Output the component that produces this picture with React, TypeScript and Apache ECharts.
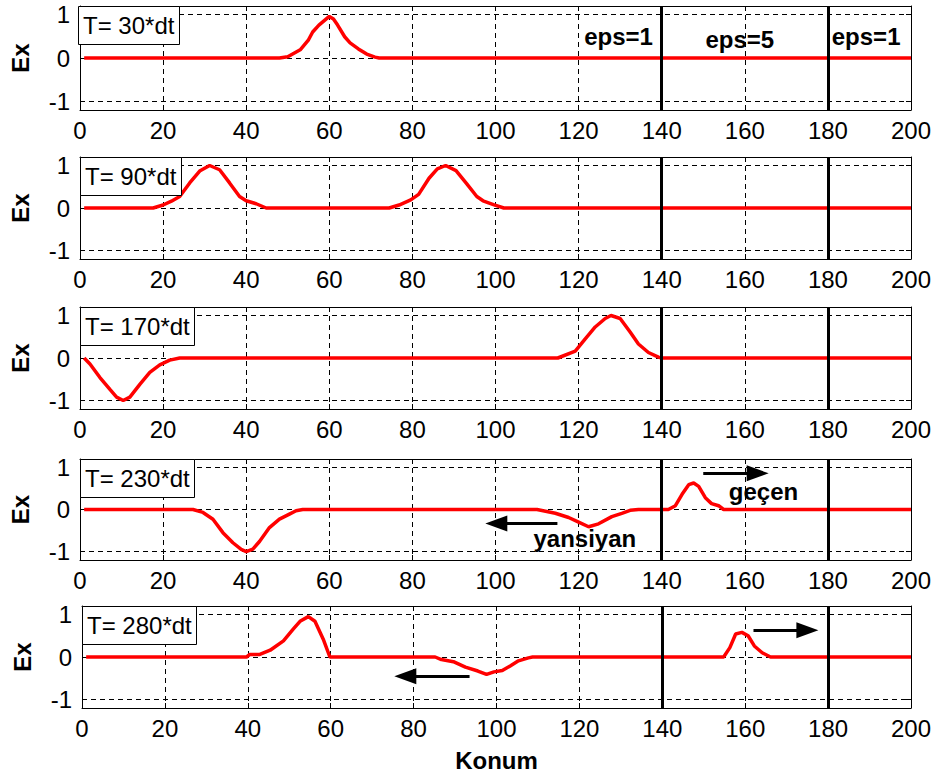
import React, { useEffect, useRef } from "react";
import * as echarts from "echarts";

const FONT = "'Liberation Sans', Arial, Helvetica, sans-serif";

const xMin = 0;
const xMax = 200;
const xInterval = 20;
const yMin = -1.2;
const yMax = 1.2;
const yTickValues = [-1, 0, 1];

const timeLabels = ["T= 30*dt", "T= 90*dt", "T= 170*dt", "T= 230*dt", "T= 280*dt"];
const interfaces = [140, 180];

// Ex(x) at each time step as [x, Ex] points
const pulseT30 = [
  [1, 0], [48, 0], [50, 0.03], [53, 0.19], [55, 0.42], [56, 0.6], [57.5, 0.76], [59, 0.88],
  [60, 0.96], [61, 0.9], [62, 0.76], [63.7, 0.49], [65, 0.35], [67, 0.21], [69, 0.09],
  [71, 0.02], [72, 0], [200, 0],
];
const pulseT90 = [
  [1, 0], [17.6, 0], [20, 0.07], [22, 0.16], [24, 0.27], [26.4, 0.59], [28.8, 0.87],
  [31.2, 1.0], [33.6, 0.9], [36, 0.59], [38.4, 0.27], [40, 0.17], [42.4, 0.1], [44.8, 0],
  [74.4, 0], [76.8, 0.07], [79.6, 0.19], [81.5, 0.32], [84, 0.7], [86, 0.92], [88, 1.0],
  [90.5, 0.88], [93, 0.58], [95.5, 0.27], [97, 0.17], [99.5, 0.08], [102, 0], [200, 0],
];
const pulseT170 = [
  [1, 0], [2.4, -0.14], [4.8, -0.46], [7.2, -0.74], [8.8, -0.92], [10.4, -1.0], [12, -0.92],
  [14.4, -0.62], [16.8, -0.34], [19.2, -0.16], [21.6, -0.05], [24, 0], [115, 0],
  [119.2, 0.16], [121.6, 0.45], [124, 0.73], [126.4, 0.93], [127.8, 1.0], [130, 0.93],
  [132.4, 0.61], [134.4, 0.33], [136.8, 0.13], [139.2, 0.02], [140, 0], [200, 0],
];
const pulseT230 = [
  [1, 0], [27.2, 0], [29.6, -0.07], [32, -0.23], [34.4, -0.55], [36.8, -0.79], [38.8, -0.95],
  [40, -1.0], [41.6, -0.94], [43.2, -0.76], [45.6, -0.43], [48, -0.23], [50.4, -0.11],
  [52, -0.03], [53.6, 0], [110, 0], [114.4, -0.09], [117.6, -0.19], [120, -0.3],
  [122.4, -0.41], [124.8, -0.34], [128, -0.17], [130.4, -0.09], [132.4, -0.02], [134.4, 0],
  [141.6, 0], [143.3, 0.09], [144.9, 0.36], [146.5, 0.59], [147.7, 0.63], [148.9, 0.55],
  [150.5, 0.28], [152, 0.14], [153.7, 0.09], [154.9, 0], [200, 0],
];
const pulseT280 = [
  [1, 0], [39.7, 0], [40.5, 0.06], [42.9, 0.06], [45.4, 0.16], [48.6, 0.38], [51, 0.66],
  [52.6, 0.84], [54.6, 0.95], [56.2, 0.84], [58.2, 0.42], [59.8, 0], [85.2, 0], [86.7, -0.06],
  [89.6, -0.11], [92.5, -0.24], [95.5, -0.33], [97.6, -0.41], [99.4, -0.35], [101.4, -0.32],
  [103.3, -0.21], [105.3, -0.09], [107.7, -0.02], [108.7, 0], [154.8, 0], [156.3, 0.22],
  [157.7, 0.54], [159.2, 0.58], [160.7, 0.5], [162.2, 0.26], [164.1, 0.1], [166.1, 0], [200, 0],
];
const pulses = [pulseT30, pulseT90, pulseT170, pulseT230, pulseT280];

// annotations (data coordinates)
const textsT30 = [
  { text: "eps=1", x: 129.6, y: 0.5 },
  { text: "eps=5", x: 158.8, y: 0.42 },
  { text: "eps=1", x: 189.2, y: 0.5 },
];
const textsT230 = [
  { text: "geçen", x: 164.5, y: 0.42 },
  { text: "yansiyan", x: 121.5, y: -0.68 },
];
const arrowsT230 = [
  { from: [150, 0.86], to: [163.1, 0.86] },
  { from: [114.9, -0.33], to: [100.2, -0.33] },
];
const arrowsT280 = [
  { from: [93.5, -0.45], to: [78, -0.45] },
  { from: [162, 0.63], to: [175, 0.63] },
];
const panelTexts = [textsT30, [], [], textsT230, []];
const panelArrows = [[], [], [], arrowsT230, arrowsT280];

// layout
const lefts = [78, 80, 80, 80, 82];
const tops = [6, 157, 307, 459, 606];
const heights = [104, 102, 102, 101, 102];
const rightEdge = 911;

export default function App() {
  const ref = useRef<HTMLDivElement>(null);
  useEffect(() => {
    if (!ref.current) return;
    const chart = echarts.init(ref.current, undefined, { renderer: "svg" });
    const grids: any[] = [];
    const xAxes: any[] = [];
    const yAxes: any[] = [];
    const series: any[] = [];
    const titles: any[] = [];
    const gridLine = { color: "#000", width: 1, type: [5, 4] };
    for (let i = 0; i < 5; i++) {
      grids.push({ left: lefts[i], top: tops[i], width: rightEdge - lefts[i], height: heights[i] });
      const last = i === 4;
      xAxes.push({
        gridIndex: i, type: "value", min: xMin, max: xMax, interval: xInterval,
        axisLine: { show: true, onZero: false, lineStyle: { color: "#000", width: 1 } },
        axisTick: { show: true, inside: true, length: 5, lineStyle: { color: "#000" } },
        axisLabel: { fontSize: 24, color: "#000", fontFamily: FONT, margin: 8 },
        splitLine: { show: true, lineStyle: gridLine },
        name: last ? "Konum" : "",
        nameLocation: "middle", nameGap: 40,
        nameTextStyle: { fontSize: 24, fontWeight: "bold", color: "#000", fontFamily: FONT },
      });
      xAxes.push({
        gridIndex: i, type: "value", min: xMin, max: xMax, interval: xInterval, position: "top",
        axisLine: { show: true, onZero: false, lineStyle: { color: "#000", width: 1 } },
        axisTick: { show: true, inside: true, length: 5, lineStyle: { color: "#000" } },
        axisLabel: { show: false }, splitLine: { show: false },
      });
      yAxes.push({
        gridIndex: i, type: "value", min: yMin, max: yMax,
        axisLine: { show: true, onZero: false, lineStyle: { color: "#000", width: 1 } },
        axisTick: { show: true, inside: true, length: 5, customValues: yTickValues, lineStyle: { color: "#000" } },
        axisLabel: { fontSize: 24, color: "#000", fontFamily: FONT, margin: 10, customValues: yTickValues },
        splitLine: { show: true, lineStyle: gridLine },
        name: "Ex", nameLocation: "middle", nameGap: 48,
        nameTextStyle: { fontSize: 24, fontWeight: "bold", color: "#000", fontFamily: FONT },
      });
      yAxes.push({
        gridIndex: i, type: "value", min: yMin, max: yMax, position: "right",
        axisLine: { show: true, onZero: false, lineStyle: { color: "#000", width: 1 } },
        axisTick: { show: true, inside: true, length: 5, customValues: yTickValues, lineStyle: { color: "#000" } },
        axisLabel: { show: false }, splitLine: { show: false },
      });
      const mlData: any[] = interfaces.map((v) => ({ xAxis: v, lineStyle: { color: "#000", width: 3, type: "solid" } }));
      panelArrows[i].forEach((a) => {
        mlData.push([
          { coord: a.from, symbol: "none", lineStyle: { color: "#000", width: 3, type: "solid" } },
          { coord: a.to, symbol: "triangle" },
        ]);
      });
      series.push({
        type: "line", xAxisIndex: 2 * i, yAxisIndex: 2 * i, data: pulses[i],
        showSymbol: false, symbol: "none", z: 3,
        lineStyle: { color: "#ff0000", width: 3.5 },
        markLine: {
          silent: true, symbol: ["none", "none"], symbolSize: [16, 22], label: { show: false },
          itemStyle: { color: "#000" },
          lineStyle: { color: "#000", width: 3, type: "solid" },
          data: mlData,
        },
        markPoint: {
          silent: true, symbol: "rect", symbolSize: 1,
          itemStyle: { color: "rgba(0,0,0,0)" },
          label: {
            show: true, position: "inside", formatter: "{b}", fontSize: 24, fontWeight: "bold",
            color: "#000", fontFamily: FONT,
          },
          data: panelTexts[i].map((t) => ({ name: t.text, coord: [t.x, t.y] })),
        },
      });
      titles.push({
        text: timeLabels[i], left: lefts[i], top: tops[i], padding: [6, 5, 6, 5],
        borderColor: "#000", borderWidth: 1, backgroundColor: "#fff",
        textStyle: { fontSize: 24, fontWeight: "normal", color: "#000", fontFamily: FONT, lineHeight: 27 },
      });
    }
    chart.setOption({
      animation: false,
      backgroundColor: "#fff",
      title: titles,
      grid: grids,
      xAxis: xAxes,
      yAxis: yAxes,
      series,
    });
    return () => chart.dispose();
  }, []);
  return <div ref={ref} style={{ position: "fixed", left: 0, top: 0, width: 938, height: 776 }} />;
}
